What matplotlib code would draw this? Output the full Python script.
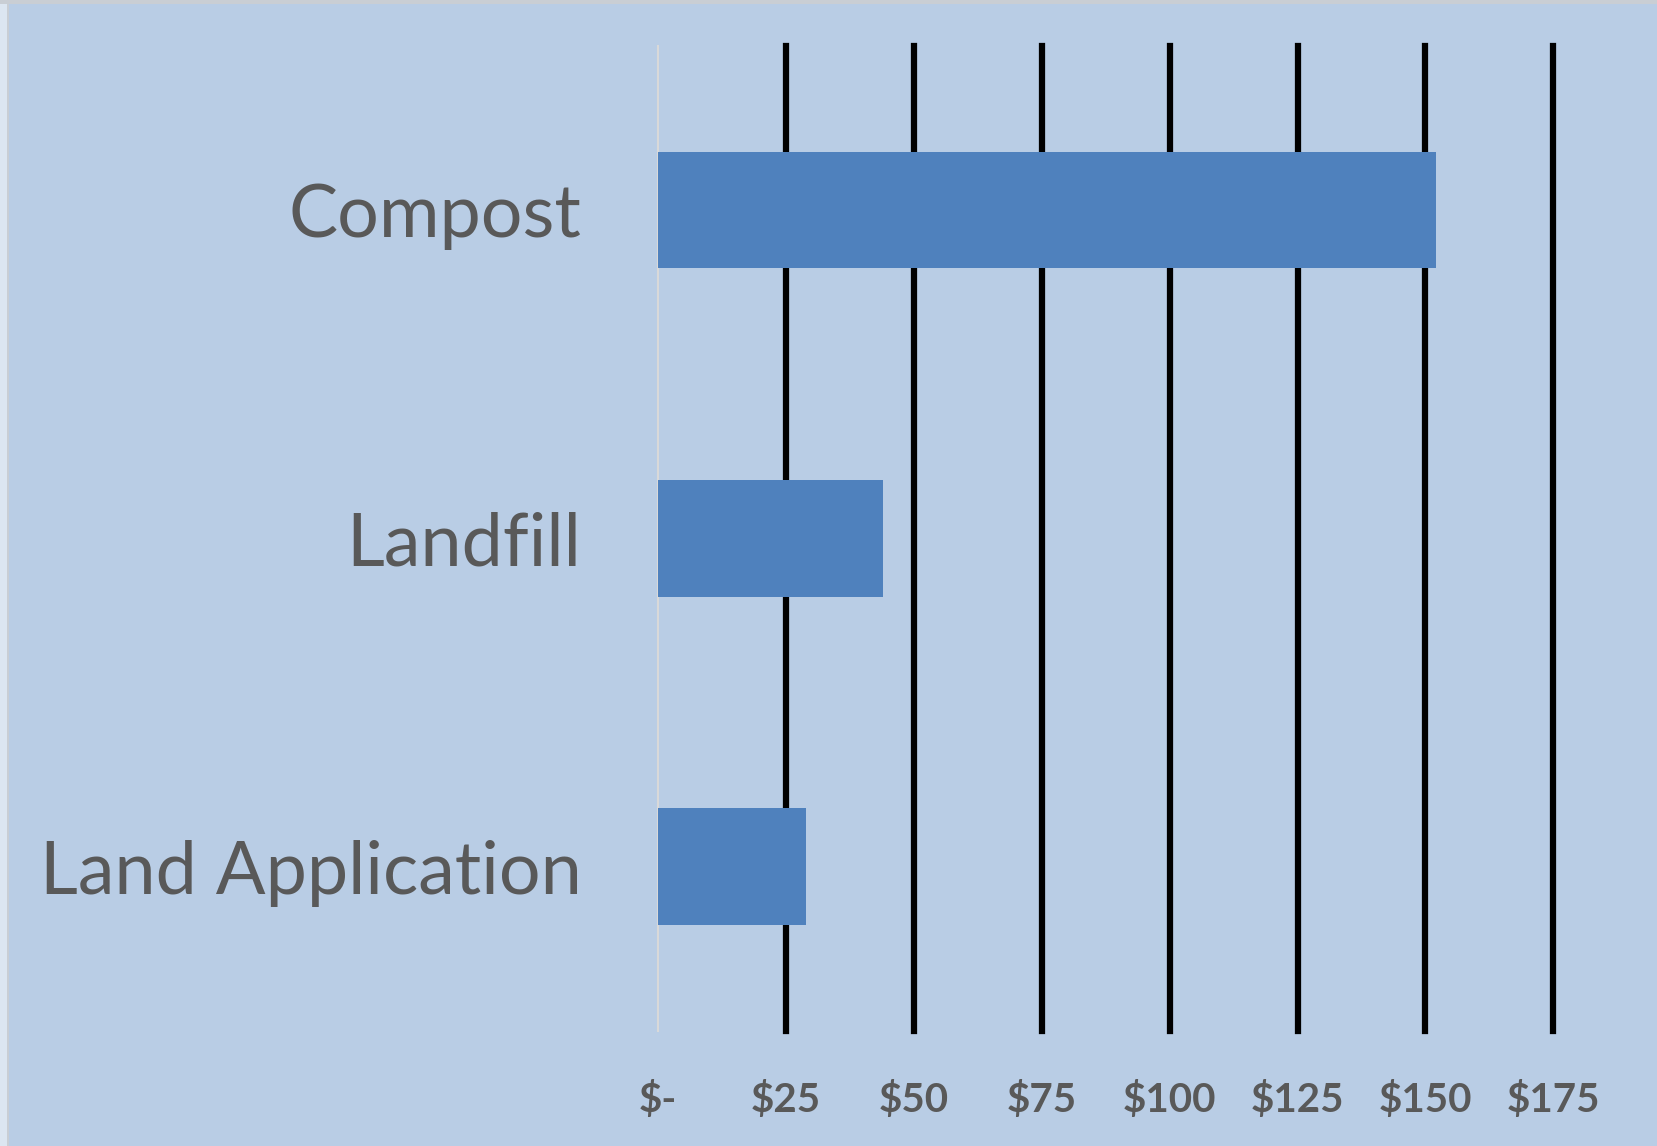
import matplotlib
matplotlib.use("Agg")
import matplotlib.pyplot as plt
from matplotlib.patches import Rectangle

categories = ["Compost", "Landfill", "Land Application"]
values = [152, 44, 29]
tick_values = [0, 25, 50, 75, 100, 125, 150, 175]
tick_labels = ["$-", "$25", "$50", "$75", "$100", "$125", "$150", "$175"]

BG = "#B9CDE5"
BAR = "#4F81BD"
TXT = "#595959"

fig = plt.figure(figsize=(16.57, 11.46), dpi=100, facecolor=BG)
# subtle border strips
fig.patches.append(Rectangle((0, 0), 0.0045, 1, transform=fig.transFigure,
                             facecolor="#DCE6F1", edgecolor="none", zorder=0))
fig.patches.append(Rectangle((0.0045, 0), 0.0012, 1, transform=fig.transFigure,
                             facecolor="#C9CED4", edgecolor="none", zorder=0))
fig.patches.append(Rectangle((0, 0.9965), 1, 0.0035, transform=fig.transFigure,
                             facecolor="#C9CED4", edgecolor="none", zorder=0))

ax = fig.add_axes([0.397, 0.1005, 0.5405, 0.8595])
ax.set_facecolor(BG)

ypos = list(range(len(categories)))
ax.barh(ypos, values, height=0.355, color=BAR, zorder=3)

ax.set_xlim(0, 175)
ax.set_ylim(len(categories) - 0.5, -0.5)

ax.set_xticks(tick_values)
ax.set_xticklabels(tick_labels, fontsize=29, fontweight="bold", color=TXT,
                   family=["Lato", "DejaVu Sans"])
ax.set_yticks(ypos)
ax.set_yticklabels(categories, fontsize=53, color=TXT, family=["Lato", "DejaVu Sans"])

ax.tick_params(axis="x", length=0, pad=36)
ax.tick_params(axis="y", length=0, pad=55)

ax.set_axisbelow(True)
ax.grid(axis="x", color="black", linewidth=4.5, zorder=1)
ax.grid(axis="y", visible=False)
gls = ax.xaxis.get_gridlines()
gls[0].set_visible(False)
for gl in gls:
    gl.set_clip_on(False)

for s in ["top", "right", "bottom"]:
    ax.spines[s].set_visible(False)
ax.spines["left"].set_color("#D9D9D9")
ax.spines["left"].set_linewidth(1.5)

fig.savefig("out.png", dpi=100, facecolor=BG)
